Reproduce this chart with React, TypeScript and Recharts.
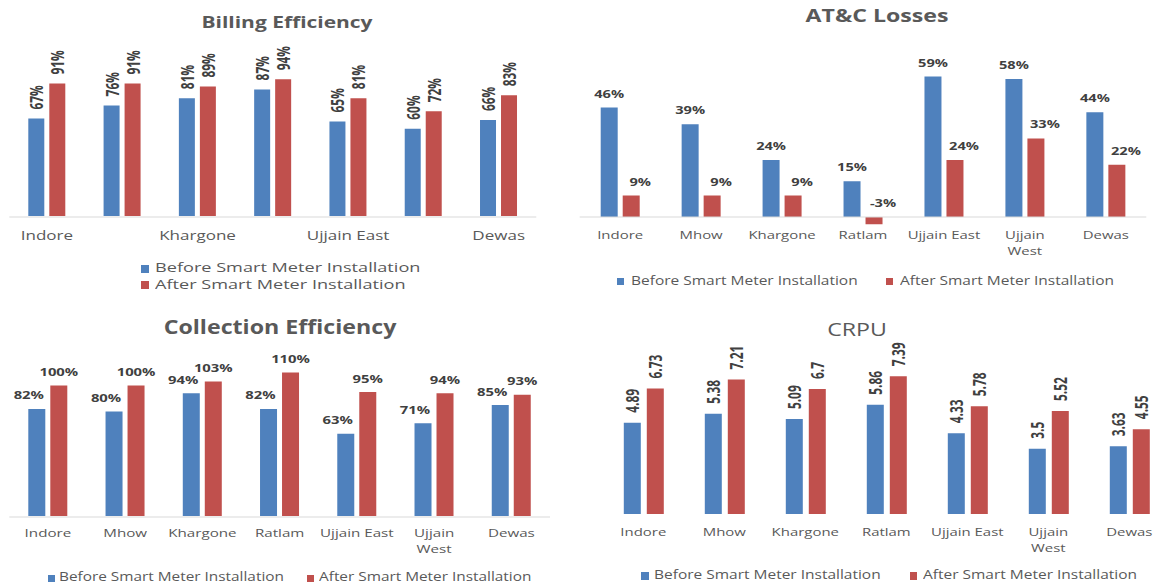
import React from 'react';
import { BarChart, Bar, XAxis, YAxis, LabelList, Legend, ReferenceLine } from 'recharts';

// ---------- data ----------
const categories = ['Indore', 'Mhow', 'Khargone', 'Ratlam', 'Ujjain East', 'Ujjain West', 'Dewas'];
const tickLines = [['Indore'], ['Mhow'], ['Khargone'], ['Ratlam'], ['Ujjain East'], ['Ujjain', 'West'], ['Dewas']];
const seriesNames = ['Before Smart Meter Installation', 'After Smart Meter Installation'];

const billingBefore = [67, 76, 81, 87, 65, 60, 66];
const billingAfter = [91, 91, 89, 94, 81, 72, 83];
const atcBefore = [46, 39, 24, 15, 59, 58, 44];
const atcAfter = [9, 9, 9, -3, 24, 33, 22];
const collectionBefore = [82, 80, 94, 82, 63, 71, 85];
const collectionAfter = [100, 100, 103, 110, 95, 94, 93];
const crpuBefore = [4.89, 5.38, 5.09, 5.86, 4.33, 3.5, 3.63];
const crpuAfter = [6.73, 7.21, 6.7, 7.39, 5.78, 5.52, 4.55];
const separatorTicks = [0, 1, 2, 3, 4, 5, 6, 7];

// ---------- style ----------
const W = 1156;
const H = 586;
const BLUE = '#4f81bd';
const RED = '#c0504d';
const TXT = '#595959';
const LBL = '#404040';
const LINE = '#d9d9d9';
const FONT = '"Open Sans", "DejaVu Sans", sans-serif';
const COLORS = [BLUE, RED];

const rows = (b: number[], a: number[]) =>
  categories.map((name, i) => ({ name, before: b[i], after: a[i] }));

const pct = (v: any) => `${v}%`;
const num = (v: any) => `${v}`;

type TickCfg = { fontSize: number; scale: number; center: number; lineH: number };
type LabelCfg = { kind: 'rot' | 'flat'; fontSize: number; scale: number; gap: number; dx: number[]; fmt: (v: any) => string };
type LegendCfg = { xs: number[]; ys: number[]; sq: number; textDx: number; fontSize: number; scale: number };
type PanelCfg = {
  data: any[];
  width: number;
  plot: { left: number; right: number; top: number; bottom: number };
  domain: [number, number];
  barSize: number;
  barGap: number;
  separators: boolean;
  zeroLine: boolean;
  interval: number;
  tick: TickCfg;
  label: LabelCfg;
  legend: LegendCfg;
};

const makeTick = (tc: TickCfg) => (props: any) => {
  const { x, y, payload, index } = props;
  const v = String(payload?.value ?? '');
  const idx = categories.indexOf(v);
  const lines = idx >= 0 ? tickLines[idx] : [v];
  return (
    <g transform={`translate(${x},${y}) scale(${tc.scale},1)`} key={`t-${index}`}>
      <text x={0} y={0} textAnchor="middle" fontFamily={FONT} fontSize={tc.fontSize} fill={TXT}>
        {lines.map((l, i) => (
          <tspan key={i} x={0} dy={i === 0 ? tc.fontSize * 0.71 : tc.lineH}>
            {l}
          </tspan>
        ))}
      </text>
    </g>
  );
};

const makeLabel = (lc: LabelCfg, series: number) => (props: any) => {
  const vb = props.viewBox || props;
  const { x, y, width, height } = vb;
  if (x == null || y == null) return null;
  const top = Math.min(y, y + (height || 0));
  const cx = x + width / 2 + lc.dx[series];
  const ty = top - lc.gap;
  if (lc.kind === 'rot') {
    return (
      <text
        transform={`translate(${cx},${ty}) rotate(-90) scale(${lc.scale},1)`}
        x={0}
        y={0}
        textAnchor="start"
        dominantBaseline="central"
        fontFamily={FONT}
        fontWeight="bold"
        fontSize={lc.fontSize}
        fill={LBL}
      >
        {lc.fmt(props.value)}
      </text>
    );
  }
  return (
    <text
      transform={`translate(${cx},${ty}) scale(${lc.scale},1)`}
      x={0}
      y={0}
      textAnchor="middle"
      fontFamily={FONT}
      fontWeight="bold"
      fontSize={lc.fontSize}
      fill={LBL}
    >
      {lc.fmt(props.value)}
    </text>
  );
};

const makeLegend = (lg: LegendCfg) => (props: any) => {
  const raw: any[] =
    props.payload && props.payload.length
      ? props.payload
      : seriesNames.map((n, i) => ({ value: n, color: COLORS[i] }));
  const payload = [...raw].sort(
    (a, b) => seriesNames.indexOf(String(a.value)) - seriesNames.indexOf(String(b.value)),
  );
  return (
    <div style={{ position: 'relative', width: 0, height: 0 }}>
      {payload.map((it: any, i: number) => (
        <React.Fragment key={i}>
          <div
            style={{
              position: 'absolute',
              left: lg.xs[i],
              top: lg.ys[i] - lg.sq / 2,
              width: lg.sq,
              height: lg.sq,
              background: it.color,
            }}
          />
          <div
            style={{
              position: 'absolute',
              left: lg.xs[i] + lg.textDx,
              top: lg.ys[i] - lg.fontSize * 0.73,
              whiteSpace: 'nowrap',
              fontFamily: FONT,
              fontSize: lg.fontSize,
              lineHeight: `${lg.fontSize * 1.4}px`,
              color: TXT,
              transform: `scaleX(${lg.scale})`,
              transformOrigin: 'left center',
            }}
          >
            {it.value}
          </div>
        </React.Fragment>
      ))}
    </div>
  );
};

function Panel({ cfg }: { cfg: PanelCfg }) {
  const axisCount = cfg.separators ? 2 : 1;
  const margin = {
    left: cfg.plot.left,
    right: cfg.width - cfg.plot.right,
    top: cfg.plot.top,
    bottom: H - cfg.plot.bottom - axisCount,
  };
  const tickMargin = cfg.tick.center - 0.37 * cfg.tick.fontSize - cfg.plot.bottom;
  const keys = ['before', 'after'];
  return (
    <div style={{ position: 'absolute', left: 0, top: 0 }}>
      <BarChart width={cfg.width} height={H} data={cfg.data} margin={margin} barGap={cfg.barGap}>
        <YAxis hide domain={cfg.domain} allowDataOverflow />
        {cfg.separators && (
          <XAxis
            xAxisId="sep"
            type="number"
            domain={[0, 7]}
            ticks={separatorTicks}
            allowDataOverflow
            height={1}
            tick={false}
            tickSize={4}
            tickLine={{ stroke: LINE }}
            axisLine={{ stroke: LINE }}
          />
        )}
        <XAxis
          dataKey="name"
          height={1}
          interval={cfg.interval}
          axisLine={false}
          tickLine={false}
          tickSize={0}
          tickMargin={tickMargin}
          tick={makeTick(cfg.tick)}
        />
        {cfg.zeroLine && <ReferenceLine y={0} stroke={LINE} strokeWidth={1} />}
        {keys.map((k, s) => (
          <Bar
            key={k}
            dataKey={k}
            name={seriesNames[s]}
            fill={COLORS[s]}
            barSize={cfg.barSize}
            isAnimationActive={false}
          >
            <LabelList dataKey={k} content={makeLabel(cfg.label, s)} />
          </Bar>
        ))}
        <Legend
          layout="horizontal"
          verticalAlign="middle"
          align="center"
          wrapperStyle={{ left: 0, top: 0, width: 0, height: 0 }}
          content={makeLegend(cfg.legend)}
        />
      </BarChart>
    </div>
  );
}

const panels: PanelCfg[] = [
  {
    data: rows(billingBefore, billingAfter),
    width: W,
    plot: { left: 9.3, right: 536.3, top: 70.5, bottom: 216 },
    domain: [0, 100],
    barSize: 16,
    barGap: 5,
    separators: true,
    zeroLine: false,
    interval: 1,
    tick: { fontSize: 12, scale: 1.42, center: 236, lineH: 16 },
    label: { kind: 'rot', fontSize: 17, scale: 0.7, gap: 9, dx: [0, 0], fmt: pct },
    legend: { xs: [140.7, 140.7], ys: [268.5, 285], sq: 8, textDx: 14.3, fontSize: 12.5, scale: 1.45 },
  },
  {
    data: rows(atcBefore, atcAfter),
    width: W,
    plot: { left: 579.7, right: 1146.3, top: 62.3, bottom: 228.9 },
    domain: [-5, 65],
    barSize: 17,
    barGap: 5,
    separators: false,
    zeroLine: true,
    interval: 0,
    tick: { fontSize: 11.5, scale: 1.3, center: 235, lineH: 16 },
    label: { kind: 'flat', fontSize: 11, scale: 1.33, gap: 10, dx: [0, 9], fmt: pct },
    legend: { xs: [616.7, 885.6], ys: [281.7, 281.7], sq: 7, textDx: 14.3, fontSize: 12, scale: 1.29 },
  },
  {
    data: rows(collectionBefore, collectionAfter),
    width: W,
    plot: { left: 9.3, right: 550, top: 359.4, bottom: 516 },
    domain: [0, 120],
    barSize: 17,
    barGap: 5,
    separators: true,
    zeroLine: false,
    interval: 0,
    tick: { fontSize: 11.5, scale: 1.32, center: 533, lineH: 16 },
    label: { kind: 'flat', fontSize: 11, scale: 1.35, gap: 9.5, dx: [-8, 0], fmt: pct },
    legend: { xs: [48, 307.4], ys: [578, 578], sq: 7, textDx: 11.3, fontSize: 12, scale: 1.28 },
  },
  {
    data: rows(crpuBefore, crpuAfter),
    width: 1180,
    plot: { left: 602.8, right: 1169.8, top: 364.8, bottom: 514 },
    domain: [0, 8],
    barSize: 17,
    barGap: 6,
    separators: false,
    zeroLine: false,
    interval: 0,
    tick: { fontSize: 11.5, scale: 1.3, center: 532, lineH: 16 },
    label: { kind: 'rot', fontSize: 17, scale: 0.7, gap: 10, dx: [0, 0], fmt: num },
    legend: { xs: [641, 909.6], ys: [576, 576], sq: 7.5, textDx: 13, fontSize: 12, scale: 1.29 },
  },
];

const titles = [
  { text: 'Billing Efficiency', cx: 287, cy: 21.7, fs: 16.5, bold: true, scale: 1.27 },
  { text: 'AT&C Losses', cx: 876.7, cy: 16, fs: 17.5, bold: true, scale: 1.32 },
  { text: 'Collection Efficiency', cx: 279.6, cy: 327.7, fs: 19, bold: true, scale: 1.22 },
  { text: 'CRPU', cx: 857.4, cy: 329.3, fs: 18.7, bold: false, scale: 1.24 },
];

export default function App() {
  return (
    <div
      style={{
        position: 'absolute',
        left: 0,
        top: 0,
        width: W,
        height: H,
        overflow: 'hidden',
        background: '#ffffff',
      }}
    >
      {panels.map((p, i) => (
        <Panel key={i} cfg={p} />
      ))}
      {titles.map((t, i) => (
        <div
          key={`title-${i}`}
          style={{
            position: 'absolute',
            left: t.cx,
            top: t.cy - t.fs * 0.73,
            whiteSpace: 'nowrap',
            fontFamily: FONT,
            fontSize: t.fs,
            fontWeight: t.bold ? 700 : 400,
            lineHeight: `${t.fs * 1.4}px`,
            color: TXT,
            transform: `translateX(-50%) scaleX(${t.scale})`,
          }}
        >
          {t.text}
        </div>
      ))}
    </div>
  );
}
